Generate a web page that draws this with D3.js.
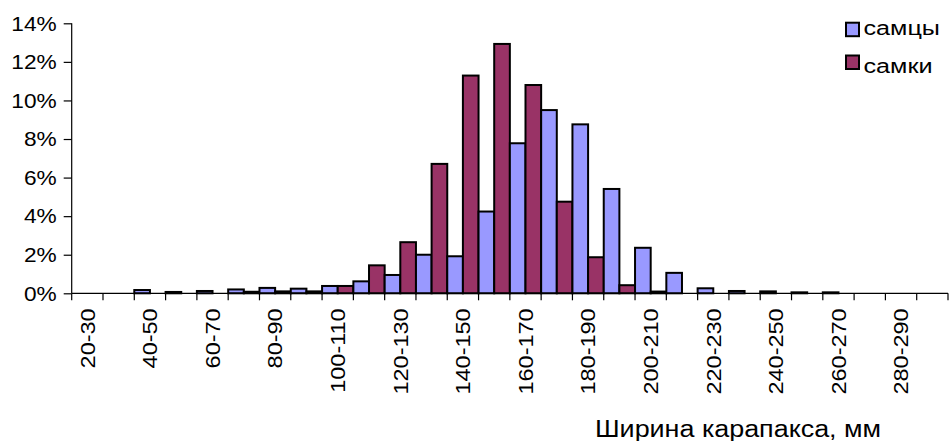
<!DOCTYPE html>
<html>
<head>
<meta charset="utf-8">
<script src="https://cdn.jsdelivr.net/npm/d3@7"></script>
<style>
  html, body { margin: 0; padding: 0; background: #fff; }
  svg { display: block; font-family: "Liberation Sans", Arial, sans-serif; }
</style>
</head>
<body>
<svg id="chart" width="950" height="441"></svg>
<script>
// Categories: carapace width classes, mm
const categories = ["20-30","30-40","40-50","50-60","60-70","70-80","80-90","90-100","100-110","110-120",
  "120-130","130-140","140-150","150-160","160-170","170-180","180-190","190-200","200-210","210-220",
  "220-230","230-240","240-250","250-260","260-270","270-280","280-290","290-300"];
// Share of individuals, %
const males   = [0,0,0.17,0.07,0.12,0.2,0.28,0.24,0.38,0.62,0.95,2.0,1.92,4.24,7.78,9.5,8.76,5.41,2.36,1.06,0.26,0.12,0.1,0.05,0.05,0,0,0];
const females = [0,0,0,0,0,0.08,0.1,0.1,0.38,1.45,2.65,6.71,11.29,12.93,10.8,4.75,1.87,0.42,0.09,0,0,0,0,0,0,0,0,0];
const seriesNames = ["самцы","самки"];
const yTicks = [0,2,4,6,8,10,12,14];
const xTitle = "Ширина карапакса, мм";

const colors = {"самцы":"#9999FF","самки":"#993366"};

(function () {
const svg = d3.select("#chart");
const pLeft = 71.7, pRight = 948, pTop = 23.3, pBottom = 293.3;
const FONT = "'Liberation Sans', Arial, sans-serif";

const x = d3.scaleBand().domain(categories).range([pLeft, pRight]).paddingInner(0).paddingOuter(0);
const xs = d3.scaleBand().domain(seriesNames).range([0, x.bandwidth()]).padding(0);
const y = d3.scaleLinear().domain([0, 14]).range([pBottom, pTop]);

const data = categories.map((c, i) => ({cat: c, values: [
  {name: "самцы", v: males[i]}, {name: "самки", v: females[i]}
]}));

// bars
const g = svg.append("g");
g.selectAll("g.cat").data(data).join("g")
  .attr("class","cat")
  .attr("transform", d => `translate(${x(d.cat)},0)`)
  .selectAll("rect").data(d => d.values.filter(v => v.v > 0)).join("rect")
  .attr("x", d => xs(d.name))
  .attr("width", xs.bandwidth())
  .attr("y", d => y(d.v))
  .attr("height", d => y(0) - y(d.v))
  .attr("fill", d => colors[d.name])
  .attr("stroke", "#000")
  .attr("stroke-width", 2);

// y axis
const yAxis = d3.axisLeft(y).tickValues(yTicks).tickFormat(d => d + "%").tickSize(8).tickPadding(6);
const ya = svg.append("g").attr("transform", `translate(${pLeft},0)`).call(yAxis);
ya.select(".domain").attr("stroke","#000").attr("stroke-width",1.2).attr("d", `M0,${pTop}V${pBottom}`);
ya.selectAll(".tick line").attr("stroke","#000").attr("stroke-width",1.2);
ya.selectAll(".tick text").attr("font-size", 21).attr("fill","#000")
  .attr("font-family", FONT)
  .attr("x", 0)
  .attr("transform", "translate(-15,0) scale(1.08,1)");

// x axis
const xAxis = d3.axisBottom(x).tickSize(7).tickFormat((d,i) => i % 2 === 0 ? d : "");
const xa = svg.append("g").attr("transform", `translate(0,${pBottom})`).call(xAxis);
xa.select(".domain").attr("stroke","#000").attr("stroke-width",1.2).attr("d", `M${pLeft},0H${pRight}`);
xa.selectAll(".tick line").remove();
xa.selectAll("line.bound").data(categories.concat(["end"])).join("line")
  .attr("class","bound")
  .attr("x1", (d,i) => pLeft + i * x.step()).attr("x2", (d,i) => pLeft + i * x.step())
  .attr("y1", 0).attr("y2", 7)
  .attr("stroke","#000").attr("stroke-width",1.2);
xa.selectAll(".tick text")
  .attr("font-size", 21).attr("fill","#000")
  .attr("font-family", FONT)
  .attr("transform", "rotate(-90) translate(-15,0) scale(1.12,1)")
  .attr("text-anchor","end")
  .attr("x", 0).attr("y", 0).attr("dy", "0.35em");

// x title
svg.append("text")
  .attr("transform", "translate(738,437) scale(1.17,1)")
  .attr("text-anchor","middle")
  .attr("font-size", 23).attr("fill","#000").text(xTitle);

// legend
const legY = [22.7, 55.5];
const legTextY = [35, 73];
seriesNames.forEach((s, i) => {
  svg.append("rect").attr("x", 846).attr("y", legY[i]).attr("width", 13).attr("height", 13.5)
    .attr("fill", colors[s]).attr("stroke","#000").attr("stroke-width",2);
  svg.append("text")
    .attr("transform", `translate(863.5,${legTextY[i]}) scale(1.2,1)`)
    .attr("font-size", 21).attr("fill","#000").text(s);
});
})();
</script>
</body>
</html>
